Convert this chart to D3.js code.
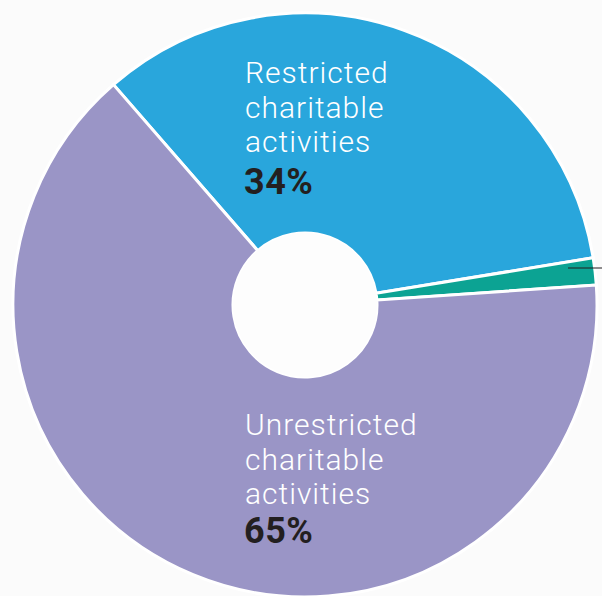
<!DOCTYPE html>
<html>
<head>
<meta charset="utf-8">
<script src="https://cdn.jsdelivr.net/npm/d3@7"></script>
<style>
  html, body { margin: 0; padding: 0; background: #fbfbfb; }
  svg { display: block; }
</style>
</head>
<body>
<div id="chart"></div>
<script>
(function () {
  "use strict";

  // Data
  const categories = ["Restricted charitable activities", "Other", "Unrestricted charitable activities"];
  const shares = [33.8, 1.5, 64.7];
  const labelLines = [["Restricted", "charitable", "activities"], null, ["Unrestricted", "charitable", "activities"]];
  const pctLabels = ["34%", null, "65%"];

  const COLORS = ["#29a6dc", "#0ca393", "#9a95c6"];

  const w = 602, h = 596;
  const cx = 305, cy = 305;
  const outerR = 292, innerR = 72;

  const svg = d3.select("#chart").append("svg")
    .attr("width", w).attr("height", h)
    .attr("viewBox", `0 0 ${w} ${h}`);

  svg.append("rect").attr("width", w).attr("height", h).attr("fill", "#fbfbfb");

  const startA = -41 * Math.PI / 180;
  const pie = d3.pie().sort(null).value((d) => d)
    .startAngle(startA).endAngle(startA + 2 * Math.PI);
  const arc = d3.arc().innerRadius(innerR).outerRadius(outerR);

  const g = svg.append("g").attr("transform", `translate(${cx},${cy})`);

  g.selectAll("path.slice")
    .data(pie(shares))
    .enter()
    .append("path")
    .attr("class", "slice")
    .attr("d", arc)
    .attr("fill", (d, i) => COLORS[i])
    .attr("stroke", "#ffffff")
    .attr("stroke-width", 3)
    .attr("stroke-linejoin", "miter");

  // hole
  g.append("circle").attr("r", innerR).attr("fill", "#fdfdfd");

  // leader line for the small slice
  svg.append("line")
    .attr("x1", 568).attr("x2", 602)
    .attr("y1", 268).attr("y2", 268)
    .attr("stroke", "#231f20").attr("stroke-width", 1.2);

  // Labels
  const textX = 245;
  const baseY = [83, null, 435];
  labelLines.forEach((lines, i) => {
    if (!lines) return;
    const t = svg.append("text")
      .attr("x", textX).attr("y", baseY[i])
      .attr("fill", "#ffffff")
      .attr("font-family", "Roboto, 'DejaVu Sans Condensed', sans-serif")
      .attr("font-weight", 300)
      .attr("font-size", "30px")
      .attr("letter-spacing", "1px");
    lines.forEach((ln, j) => {
      t.append("tspan").attr("x", textX).attr("y", baseY[i] + j * 34.5).text(ln);
    });
    svg.append("text")
      .attr("x", textX - 1).attr("y", baseY[i] + (i === 0 ? 111 : 108))
      .attr("fill", "#231f20")
      .attr("font-family", "Roboto, sans-serif")
      .attr("font-weight", 700)
      .attr("font-size", "36px")
      .attr("letter-spacing", "0.5px")
      .text(pctLabels[i]);
  });
})();
</script>
</body>
</html>
